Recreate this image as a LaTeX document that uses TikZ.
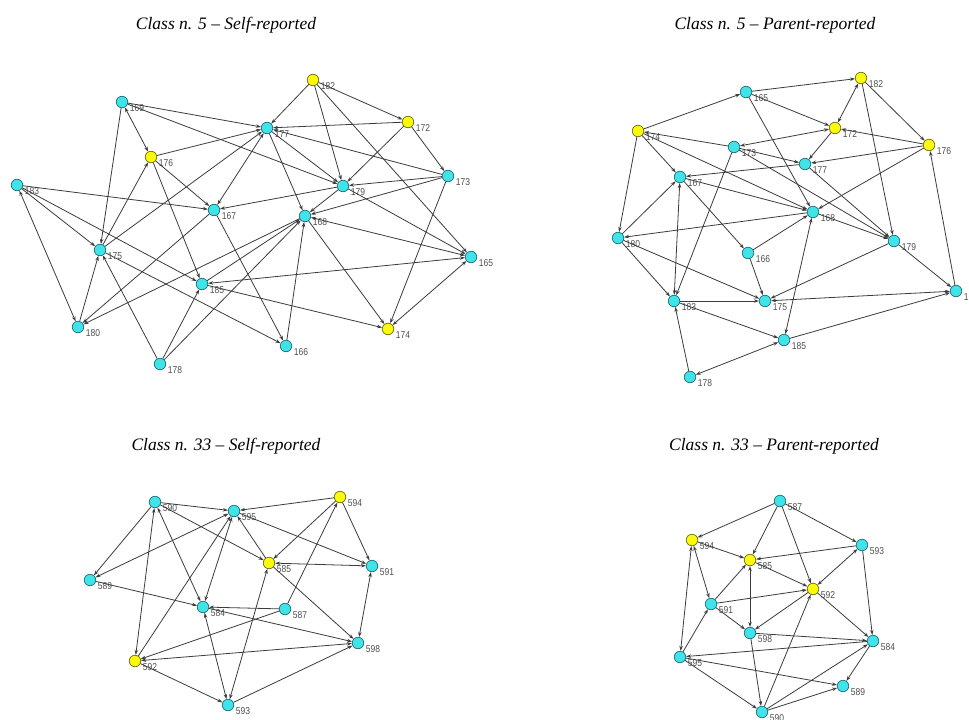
\documentclass[tikz,border=0pt]{standalone}
\usepackage{fontspec}
\setmainfont{Liberation Serif}
\newfontfamily\labfont{Liberation Sans}
\usetikzlibrary{arrows.meta}
\definecolor{cyanfill}{RGB}{64,228,232}
\definecolor{cyanline}{RGB}{30,110,120}
\definecolor{yelfill}{RGB}{250,250,10}
\definecolor{yelline}{RGB}{110,110,20}
\definecolor{edgecol}{RGB}{60,60,60}
\definecolor{labcol}{RGB}{80,80,80}
\newcommand\lbl[1]{\scalebox{0.85}[1]{#1}}
\newcommand\mknode[5]{\node[#1,label={[lab]east:\lbl{#5}}] (#2) at (#3,#4) {};}
\tikzset{
  cn/.style={circle,draw=cyanline,fill=cyanfill,minimum size=11.5pt,inner sep=0pt,line width=0.7pt},
  yn/.style={cn,draw=yelline,fill=yelfill},
  lab/.style={font=\labfont\fontsize{10}{10}\selectfont,text=labcol,inner sep=0pt,anchor=west,xshift=1.5pt,yshift=-6pt},
  ea/.style={draw=edgecol,line width=0.8pt,-{Stealth[length=5pt,width=3.5pt]}},
  eb/.style={draw=edgecol,line width=0.8pt,{Stealth[length=5pt,width=3.5pt]}-{Stealth[length=5pt,width=3.5pt]}},
  ttl/.style={font=\itshape\fontsize{17.5}{17.5}\selectfont,inner sep=0pt}
}
\begin{document}
\begin{tikzpicture}[x=1pt,y=-1pt]
\useasboundingbox (0,0) rectangle (969,720);
\fill[white] (0,0) rectangle (969,720);

\node[ttl] (t1) at (226,25) {Class n. 5 -- Self-reported};
\node[ttl] (t2) at (775,25) {Class n. 5 -- Parent-reported};
\node[ttl] (t3) at (226,446) {Class n. 33 -- Self-reported};
\node[ttl] (t4) at (774,446) {Class n. 33 -- Parent-reported};

% ---------- Panel 1 ----------
\mknode{cn}{a169}{122}{102}{169}
\mknode{yn}{a176}{151}{157}{176}
\mknode{cn}{a183}{17}{185}{183}
\mknode{cn}{a167}{214}{210}{167}
\mknode{yn}{a182}{313}{80}{182}
\mknode{cn}{a177}{267}{128}{177}
\mknode{yn}{a172}{408}{122}{172}
\mknode{cn}{a173}{448}{176}{173}
\mknode{cn}{a179}{343}{186}{179}
\mknode{cn}{a168}{305}{216}{168}
\mknode{cn}{a175}{100}{250}{175}
\mknode{cn}{a185}{202}{284}{185}
\mknode{cn}{a180}{78}{327}{180}
\mknode{cn}{a178}{160}{364}{178}
\mknode{cn}{a165}{471}{257}{165}
\mknode{yn}{a174}{388}{329}{174}
\mknode{cn}{a166}{286}{346}{166}

\draw[ea] (a169) -- (a177);
\draw[ea] (a169) -- (a179);
\draw[eb] (a169) -- (a176);
\draw[ea] (a169) -- (a175);
\draw[ea] (a176) -- (a177);
\draw[ea] (a176) -- (a167);
\draw[ea] (a176) -- (a185);
\draw[ea] (a175) -- (a176);
\draw[ea] (a175) -- (a177);
\draw[ea] (a183) -- (a167);
\draw[ea] (a183) -- (a175);
\draw[eb] (a183) -- (a180);
\draw[ea] (a183) -- (a185);
\draw[ea] (a175) -- (a166);
\draw[ea] (a167) -- (a180);
\draw[ea] (a168) -- (a180);
\draw[ea] (a180) -- (a175);
\draw[ea] (a178) -- (a175);
\draw[ea] (a178) -- (a185);
\draw[ea] (a178) -- (a168);
\draw[eb] (a165) -- (a185);
\draw[ea] (a185) -- (a174);
\draw[ea] (a185) -- (a168);
\draw[ea] (a166) -- (a168);
\draw[ea] (a167) -- (a166);
\draw[ea] (a168) -- (a174);
\draw[eb] (a168) -- (a165);
\draw[eb] (a165) -- (a174);
\draw[ea] (a173) -- (a174);
\draw[ea] (a182) -- (a177);
\draw[ea] (a182) -- (a172);
\draw[ea] (a182) -- (a179);
\draw[ea] (a182) -- (a165);
\draw[ea] (a172) -- (a177);
\draw[ea] (a172) -- (a179);
\draw[ea] (a172) -- (a173);
\draw[ea] (a173) -- (a177);
\draw[ea] (a173) -- (a179);
\draw[ea] (a173) -- (a168);
\draw[ea] (a177) -- (a179);
\draw[ea] (a177) -- (a168);
\draw[ea] (a179) -- (a168);
\draw[ea] (a179) -- (a167);
\draw[ea] (a179) -- (a165);
\draw[eb] (a177) -- (a167);

% ---------- Panel 2 ----------
\mknode{cn}{b165}{746}{92}{165}
\mknode{yn}{b174}{638}{131}{174}
\mknode{cn}{b173}{734}{147}{173}
\mknode{cn}{b167}{680}{177}{167}
\mknode{yn}{b182}{861}{78}{182}
\mknode{yn}{b172}{835}{128}{172}
\mknode{cn}{b177}{805}{164}{177}
\mknode{yn}{b176}{929}{145}{176}
\mknode{cn}{b168}{813}{212}{168}
\mknode{cn}{b180}{618}{238}{180}
\mknode{cn}{b166}{748}{253}{166}
\mknode{cn}{b183}{674}{301}{183}
\mknode{cn}{b175}{765}{301}{175}
\mknode{cn}{b178}{690}{377}{178}
\mknode{cn}{b179}{894}{241}{179}
\mknode{cn}{b169}{956}{291}{169}
\mknode{cn}{b185}{784}{340}{185}

\draw[ea] (b174) -- (b165);
\draw[ea] (b173) -- (b174);
\draw[ea] (b174) -- (b167);
\draw[ea] (b174) -- (b180);
\draw[ea] (b174) -- (b168);
\draw[ea] (b165) -- (b182);
\draw[ea] (b165) -- (b172);
\draw[ea] (b165) -- (b168);
\draw[eb] (b182) -- (b172);
\draw[ea] (b182) -- (b176);
\draw[ea] (b182) -- (b179);
\draw[ea] (b172) -- (b177);
\draw[ea] (b176) -- (b172);
\draw[ea] (b176) -- (b177);
\draw[ea] (b176) -- (b168);
\draw[ea] (b169) -- (b176);
\draw[eb] (b172) -- (b173);
\draw[ea] (b173) -- (b179);
\draw[ea] (b173) -- (b183);
\draw[ea] (b173) -- (b177);
\draw[ea] (b177) -- (b167);
\draw[ea] (b167) -- (b168);
\draw[ea] (b167) -- (b166);
\draw[eb] (b167) -- (b183);
\draw[ea] (b180) -- (b167);
\draw[ea] (b180) -- (b183);
\draw[ea] (b180) -- (b175);
\draw[ea] (b168) -- (b180);
\draw[ea] (b166) -- (b175);
\draw[ea] (b166) -- (b168);
\draw[ea] (b183) -- (b175);
\draw[ea] (b183) -- (b185);
\draw[ea] (b178) -- (b183);
\draw[eb] (b178) -- (b185);
\draw[eb] (b185) -- (b168);
\draw[ea] (b185) -- (b169);
\draw[eb] (b169) -- (b175);
\draw[ea] (b179) -- (b175);
\draw[ea] (b179) -- (b169);
\draw[ea] (b168) -- (b179);
\draw[ea] (b177) -- (b179);

% ---------- Panel 3 ----------
\mknode{cn}{c590}{155}{502}{590}
\mknode{cn}{c595}{234}{511}{595}
\mknode{yn}{c594}{340}{497}{594}
\mknode{yn}{c585}{269}{563}{585}
\mknode{cn}{c589}{90}{580}{589}
\mknode{cn}{c584}{203}{607}{584}
\mknode{cn}{c587}{285}{609}{587}
\mknode{cn}{c591}{372}{566}{591}
\mknode{cn}{c598}{358}{643}{598}
\mknode{yn}{c592}{135}{661}{592}
\mknode{cn}{c593}{228}{705}{593}

\draw[ea] (c590) -- (c595);
\draw[ea] (c590) -- (c589);
\draw[eb] (c590) -- (c592);
\draw[eb] (c590) -- (c584);
\draw[ea] (c590) -- (c585);
\draw[eb] (c589) -- (c595);
\draw[ea] (c589) -- (c584);
\draw[eb] (c595) -- (c584);
\draw[ea] (c592) -- (c595);
\draw[ea] (c585) -- (c595);
\draw[ea] (c594) -- (c595);
\draw[ea] (c594) -- (c585);
\draw[ea] (c594) -- (c591);
\draw[ea] (c587) -- (c594);
\draw[eb] (c585) -- (c591);
\draw[ea] (c585) -- (c598);
\draw[eb] (c585) -- (c593);
\draw[ea] (c595) -- (c591);
\draw[ea] (c587) -- (c584);
\draw[ea] (c587) -- (c592);
\draw[ea] (c584) -- (c598);
\draw[eb] (c584) -- (c593);
\draw[eb] (c592) -- (c598);
\draw[ea] (c592) -- (c593);
\draw[ea] (c593) -- (c598);
\draw[eb] (c591) -- (c598);

% ---------- Panel 4 ----------
\mknode{cn}{d587}{780}{501}{587}
\mknode{yn}{d594}{692}{540}{594}
\mknode{yn}{d585}{750}{560}{585}
\mknode{cn}{d593}{862}{545}{593}
\mknode{yn}{d592}{813}{589}{592}
\mknode{cn}{d591}{711}{604}{591}
\mknode{cn}{d598}{750}{633}{598}
\mknode{cn}{d584}{873}{641}{584}
\mknode{cn}{d595}{680}{657}{595}
\mknode{cn}{d589}{843}{686}{589}
\mknode{cn}{d590}{762}{712}{590}

\draw[ea] (d587) -- (d594);
\draw[ea] (d587) -- (d585);
\draw[ea] (d587) -- (d592);
\draw[ea] (d587) -- (d593);
\draw[ea] (d594) -- (d585);
\draw[eb] (d594) -- (d591);
\draw[eb] (d594) -- (d595);
\draw[eb] (d585) -- (d598);
\draw[ea] (d593) -- (d585);
\draw[ea] (d585) -- (d592);
\draw[ea] (d591) -- (d585);
\draw[ea] (d591) -- (d592);
\draw[ea] (d591) -- (d598);
\draw[ea] (d595) -- (d591);
\draw[ea] (d595) -- (d590);
\draw[ea] (d595) -- (d589);
\draw[ea] (d584) -- (d595);
\draw[ea] (d598) -- (d584);
\draw[ea] (d598) -- (d590);
\draw[ea] (d592) -- (d584);
\draw[eb] (d593) -- (d592);
\draw[ea] (d593) -- (d584);
\draw[ea] (d584) -- (d589);
\draw[ea] (d590) -- (d584);
\draw[ea] (d590) -- (d589);
\draw[ea] (d590) -- (d592);
\draw[ea] (d592) -- (d598);
\end{tikzpicture}
\end{document}
